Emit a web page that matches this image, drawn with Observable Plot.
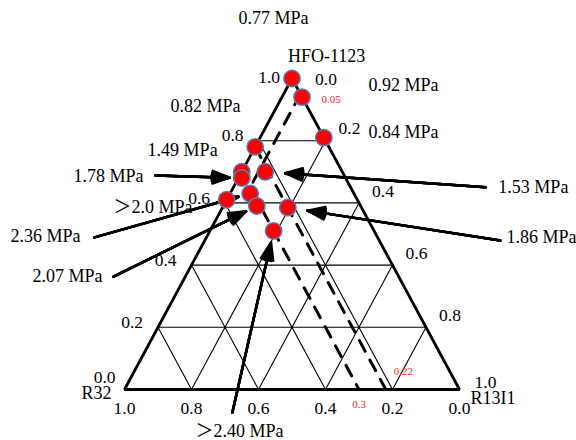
<!DOCTYPE html>
<html><head><meta charset="utf-8">
<script src="https://cdn.jsdelivr.net/npm/d3@7"></script>
<script src="https://cdn.jsdelivr.net/npm/@observablehq/plot@0.6"></script>
<style>html,body{margin:0;padding:0;background:#fff}</style>
</head><body><div id="chart"></div>
<script>
// ---- Data: mixture compositions (fractions) and measured pressures ----
const hfo1123 = [1.00, 0.94, 0.81, 0.78, 0.70, 0.68, 0.70, 0.61, 0.63, 0.59, 0.585, 0.51];
const r32     = [0.00, 0.00, 0.00, 0.22, 0.30, 0.31, 0.23, 0.39, 0.31, 0.31, 0.22, 0.30];
const r13i1   = [0.00, 0.06, 0.19, 0.00, 0.00, 0.01, 0.07, 0.00, 0.06, 0.10, 0.195, 0.19];
const pressureLabels = ["0.77 MPa","0.92 MPa","0.84 MPa","0.82 MPa","1.49 MPa","1.78 MPa",
                        "1.53 MPa","＞2.0 MPa","2.36 MPa","2.07 MPa","1.86 MPa","＞2.40 MPa"];
const components = ["HFO-1123", "R32", "R13I1"];
const tickValues = [0.0, 0.2, 0.4, 0.6, 0.8, 1.0];
const gridValues = [0.2, 0.4, 0.6, 0.8];
// dashed boundary lines, points as [HFO-1123, R32, R13I1]
const boundaryA = [[0.95, 0.00, 0.05], [0.65, 0.30, 0.05], [0.00, 0.30, 0.70]];
const boundaryB = [[0.78, 0.22, 0.00], [0.00, 0.22, 0.78]];
const boundaryLabels = ["0.05", "0.22", "0.3"];
// which pressures have an arrow to their point (left side / right side)
const arrowLeft = [5, 8, 9, 11];
const arrowRight = [6, 10];

// ---- Layout (annotation anchors in plot units X, Y) ----
const labelX = [0.340, 0.728, 0.728, 0.137, 0.069, -0.152, 1.116, -0.033, -0.340, -0.275, 1.140, 0.212];
const labelY = [1.193, 0.977, 0.826, 0.910, 0.768, 0.685, 0.650, 0.585, 0.492, 0.363, 0.489, -0.135];
const tailX = {5: 0.0925, 6: 1.078, 8: -0.0896, 9: -0.0328, 10: 1.122, 11: 0.322};
const tailY = {5: 0.688, 6: 0.650, 8: 0.489, 9: 0.363, 10: 0.479, 11: -0.074};

// ternary -> plot units
const TX = (a, b, c) => c + a / 2;
const TY = (a, b, c) => a;
const P = p => ({X: TX(...p), Y: TY(...p)});

const points = hfo1123.map((a, i) => ({X: TX(a, r32[i], r13i1[i]), Y: TY(a, r32[i], r13i1[i]), label: pressureLabels[i], i}));

const gridSegs = gridValues.flatMap(v => [
  [[v, 1 - v, 0], [v, 0, 1 - v]],
  [[1 - v, v, 0], [0, v, 1 - v]],
  [[1 - v, 0, v], [0, 1 - v, v]]
]).map(([p, q]) => ({x1: TX(...p), y1: TY(...p), x2: TX(...q), y2: TY(...q)}));

const outline = [[1,0,0],[0,1,0],[0,0,1],[1,0,0]].map(P);

const leftTicks = tickValues.map(v => ({...P([v, 1 - v, 0]), t: v.toFixed(1)}));
const rightTicks = tickValues.map(v => ({...P([1 - v, 0, v]), t: v.toFixed(1)}));
const bottomTicks = tickValues.map(v => ({...P([0, v, 1 - v]), t: v.toFixed(1)}));

const arrows = (idx) => idx.map(i => ({x1: tailX[i], y1: tailY[i], x2: points[i].X, y2: points[i].Y}));

const annotations = pressureLabels.map((t, i) => ({X: labelX[i], Y: labelY[i], t}));

const FONT = "'Liberation Serif', 'Times New Roman', 'Noto Sans CJK SC', serif";
const txt = {fill: "black", fontSize: 17.5};

// arrow marks with layered heads so the head reads as a filled triangle
const arrowMarks = (data, inset) => [40, 28, 16, 6].map(angle =>
  Plot.arrow(data, {x1: "x1", y1: "y1", x2: "x2", y2: "y2", stroke: "black", strokeWidth: 2.5,
                    headLength: 11, headAngle: angle, insetEnd: inset, strokeLinejoin: "miter"}));

const chart = Plot.plot({
  width: 576,
  height: 440,
  x: {domain: [0, 1], range: [124, 459], axis: null},
  y: {domain: [0, 1], range: [389, 78], axis: null},
  style: {fontFamily: FONT, background: "white", overflow: "visible"},
  marks: [
    Plot.link(gridSegs, {x1: "x1", y1: "y1", x2: "x2", y2: "y2", stroke: "black", strokeWidth: 1.1}),
    Plot.line(outline, {x: "X", y: "Y", stroke: "black", strokeWidth: 2.8, strokeLinejoin: "miter"}),
    Plot.line(boundaryA.map(P), {x: "X", y: "Y", stroke: "black", strokeWidth: 3, strokeDasharray: "12,10"}),
    Plot.line(boundaryB.map(P), {x: "X", y: "Y", stroke: "black", strokeWidth: 3, strokeDasharray: "12,10"}),
    ...arrowMarks(arrows(arrowLeft), 12),
    ...arrowMarks(arrows(arrowRight), 20),
    Plot.dot(points, {x: "X", y: "Y", r: 8.2, fill: "#ff0000", stroke: "#4f7fc0", strokeWidth: 1.5}),
    // tick labels
    Plot.text(leftTicks.slice(1, 5), {x: "X", y: "Y", text: "t", textAnchor: "end", dx: -15, dy: -5, ...txt}),
    Plot.text(leftTicks.slice(5), {x: "X", y: "Y", text: "t", textAnchor: "end", dx: -12, dy: -1, ...txt}),
    Plot.text(leftTicks.slice(0, 1), {x: "X", y: "Y", text: "t", textAnchor: "end", dx: -9, dy: -12, ...txt}),
    Plot.text(rightTicks.slice(1, 5), {x: "X", y: "Y", text: "t", textAnchor: "start", dx: 13, dy: -12, ...txt}),
    Plot.text(rightTicks.slice(0, 1), {x: "X", y: "Y", text: "t", textAnchor: "start", dx: 23, dy: 1, ...txt}),
    Plot.text(rightTicks.slice(5), {x: "X", y: "Y", text: "t", textAnchor: "start", dx: 15, dy: -7, ...txt}),
    Plot.text(bottomTicks, {x: "X", y: "Y", text: "t", textAnchor: "middle", dy: 19, ...txt}),
    // vertex names
    Plot.text([{...P([1,0,0]), t: components[0]}], {x: "X", y: "Y", text: "t", textAnchor: "start", dx: -4, dy: -22, fill: "black", fontSize: 18}),
    Plot.text([{...P([0,1,0]), t: components[1]}], {x: "X", y: "Y", text: "t", textAnchor: "end", dx: -13, dy: 4, fill: "black", fontSize: 18}),
    Plot.text([{...P([0,0,1]), t: components[2]}], {x: "X", y: "Y", text: "t", textAnchor: "start", dx: 11, dy: 9, fill: "black", fontSize: 18}),
    // boundary labels (red)
    Plot.text([{...P(boundaryA[0]), t: boundaryLabels[0]}], {x: "X", y: "Y", text: "t", textAnchor: "start", dx: 21, dy: 5, fill: "#ff2020", fontSize: 11}),
    Plot.text([{...P(boundaryB[1]), t: boundaryLabels[1]}], {x: "X", y: "Y", text: "t", textAnchor: "start", dx: 8, dy: -18, fill: "#ff2020", fontSize: 11}),
    Plot.text([{...P(boundaryA[2]), t: boundaryLabels[2]}], {x: "X", y: "Y", text: "t", textAnchor: "middle", dx: 0, dy: 15, fill: "#ff2020", fontSize: 11}),
    // pressure annotations
    Plot.text(annotations, {x: "X", y: "Y", text: "t", textAnchor: "start", fill: "black", fontSize: 18})
  ]
});
document.getElementById("chart").appendChild(chart);
</script>
</body></html>
